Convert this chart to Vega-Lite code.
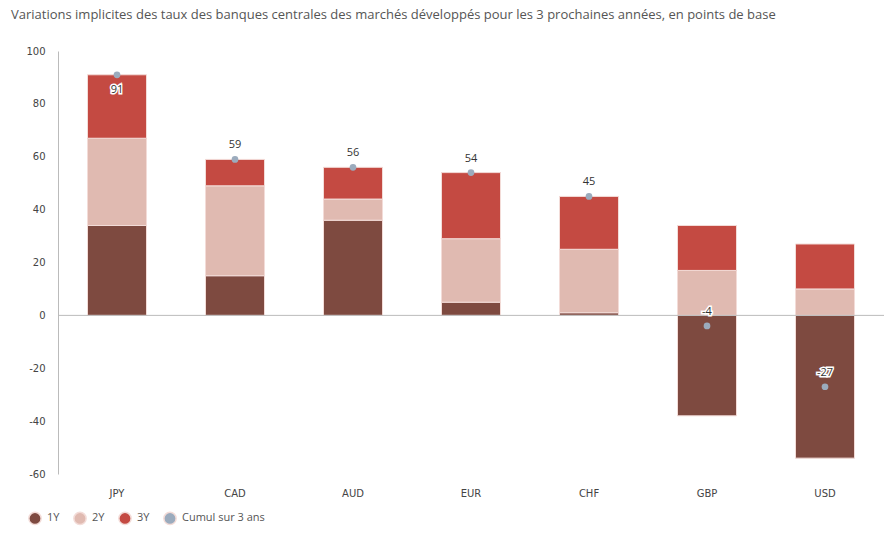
{
  "$schema": "https://vega.github.io/schema/vega-lite/v6.json",
  "autosize": {"type": "none"},
  "width": 826,
  "height": 423,
  "padding": {"left": 58, "top": 51, "right": 8, "bottom": 64},
  "background": "white",
  "config": {
    "view": {"stroke": null},
    "font": "Open Sans"
  },
  "title": {
    "text": "Variations implicites des taux des banques centrales des marchés développés pour les 3 prochaines années, en points de base",
    "anchor": "start",
    "frame": "group",
    "dx": -47,
    "offset": 24,
    "fontSize": 13,
    "fontWeight": "normal",
    "color": "#555555",
    "font": "Open Sans"
  },
  "datasets": {
    "bars": [
      {"cur": "JPY", "serie": "1Y", "value": 34},
      {"cur": "JPY", "serie": "2Y", "value": 33},
      {"cur": "JPY", "serie": "3Y", "value": 24},
      {"cur": "CAD", "serie": "1Y", "value": 15},
      {"cur": "CAD", "serie": "2Y", "value": 34},
      {"cur": "CAD", "serie": "3Y", "value": 10},
      {"cur": "AUD", "serie": "1Y", "value": 36},
      {"cur": "AUD", "serie": "2Y", "value": 8},
      {"cur": "AUD", "serie": "3Y", "value": 12},
      {"cur": "EUR", "serie": "1Y", "value": 5},
      {"cur": "EUR", "serie": "2Y", "value": 24},
      {"cur": "EUR", "serie": "3Y", "value": 25},
      {"cur": "CHF", "serie": "1Y", "value": 1},
      {"cur": "CHF", "serie": "2Y", "value": 24},
      {"cur": "CHF", "serie": "3Y", "value": 20},
      {"cur": "GBP", "serie": "1Y", "value": -38},
      {"cur": "GBP", "serie": "2Y", "value": 17},
      {"cur": "GBP", "serie": "3Y", "value": 17},
      {"cur": "USD", "serie": "1Y", "value": -54},
      {"cur": "USD", "serie": "2Y", "value": 10},
      {"cur": "USD", "serie": "3Y", "value": 17}
    ],
    "cumul": [
      {"cur": "JPY", "serie": "Cumul sur 3 ans", "total": 91, "label": "91"},
      {"cur": "CAD", "serie": "Cumul sur 3 ans", "total": 59, "label": "59"},
      {"cur": "AUD", "serie": "Cumul sur 3 ans", "total": 56, "label": "56"},
      {"cur": "EUR", "serie": "Cumul sur 3 ans", "total": 54, "label": "54"},
      {"cur": "CHF", "serie": "Cumul sur 3 ans", "total": 45, "label": "45"},
      {"cur": "GBP", "serie": "Cumul sur 3 ans", "total": -4, "label": "-4"},
      {"cur": "USD", "serie": "Cumul sur 3 ans", "total": -27, "label": "-27"}
    ]
  },
  "encoding": {
    "x": {
      "field": "cur",
      "type": "nominal",
      "sort": ["JPY", "CAD", "AUD", "EUR", "CHF", "GBP", "USD"],
      "scale": {"paddingInner": 0.5, "paddingOuter": 0.25},
      "axis": {
        "title": null,
        "domain": false,
        "ticks": false,
        "labelAngle": 0,
        "labelPadding": 14,
        "labelFontSize": 10,
        "labelColor": "#444444",
        "labelFont": "DejaVu Sans"
      }
    }
  },
  "layer": [
    {
      "data": {"name": "bars"},
      "mark": {"type": "bar", "stroke": "#f3dcd8", "strokeWidth": 1},
      "encoding": {
        "y": {
          "field": "value",
          "type": "quantitative",
          "aggregate": "sum",
          "stack": "zero",
          "scale": {"domain": [-60, 100], "nice": false, "zero": false},
          "axis": {
            "title": null,
            "grid": false,
            "ticks": false,
            "values": [-60, -40, -20, 0, 20, 40, 60, 80, 100],
            "labelOverlap": false,
            "labelExpr": "replace(datum.label, '\u2212', '-')",
            "domainColor": "#bbbbbb",
            "labelPadding": 13,
            "labelFontSize": 10,
            "labelColor": "#444444",
            "labelFont": "DejaVu Sans"
          }
        },
        "color": {
          "field": "serie",
          "type": "nominal",
          "scale": {
            "domain": ["1Y", "2Y", "3Y", "Cumul sur 3 ans"],
            "range": ["#7e4a40", "#e0bab1", "#c44a42", "#9babbd"]
          },
          "legend": {
            "title": null,
            "orient": "none",
            "direction": "horizontal",
            "legendX": -30,
            "legendY": 460,
            "symbolSize": 150,
            "labelFontSize": 11,
            "labelColor": "#555555",
            "labelFont": "Open Sans",
            "columnPadding": 10,
            "labelOffset": 5,
            "encode": {
              "symbols": {
                "update": {
                  "shape": {"signal": "datum.label == 'Cumul sur 3 ans' ? 'M-1,0H1M-0.3,0a0.3,0.3 0 1,0 0.6,0a0.3,0.3 0 1,0 -0.6,0' : 'circle'"},
                  "stroke": {"signal": "datum.label == 'Cumul sur 3 ans' ? '#9babbd' : 'transparent'"},
                  "strokeWidth": {"value": 1.5}
                }
              }
            }
          }
        },
        "order": {"field": "serie", "type": "nominal", "sort": "ascending"}
      }
    },
    {
      "data": {"values": [{"zero": 0}]},
      "mark": {"type": "rule", "color": "#bbbbbb", "strokeWidth": 1},
      "encoding": {
        "y": {"field": "zero", "type": "quantitative"},
        "x": {"value": 0},
        "x2": {"value": 826}
      }
    },
    {
      "data": {"name": "cumul"},
      "mark": {"type": "point", "filled": true, "opacity": 1, "size": 45},
      "encoding": {
        "y": {"field": "total", "type": "quantitative"},
        "color": {"field": "serie", "type": "nominal"}
      }
    },
    {
      "data": {"name": "cumul"},
      "transform": [{"filter": "datum.cur != 'JPY'"}],
      "mark": {"type": "text", "dy": -14, "fontSize": 11, "color": "#333333", "stroke": "white", "strokeWidth": 3, "font": "Open Sans"},
      "encoding": {
        "y": {"field": "total", "type": "quantitative"},
        "text": {"field": "label", "type": "nominal"}
      }
    },
    {
      "data": {"name": "cumul"},
      "transform": [{"filter": "datum.cur != 'JPY'"}],
      "mark": {"type": "text", "dy": -14, "fontSize": 11, "color": "#333333", "font": "Open Sans"},
      "encoding": {
        "y": {"field": "total", "type": "quantitative"},
        "text": {"field": "label", "type": "nominal"}
      }
    },
    {
      "data": {"name": "cumul"},
      "transform": [{"filter": "datum.cur == 'JPY'"}],
      "mark": {"type": "text", "dy": 15, "fontSize": 11, "color": "#333333", "stroke": "white", "strokeWidth": 3, "font": "Open Sans"},
      "encoding": {
        "y": {"field": "total", "type": "quantitative"},
        "text": {"field": "label", "type": "nominal"}
      }
    },
    {
      "data": {"name": "cumul"},
      "transform": [{"filter": "datum.cur == 'JPY'"}],
      "mark": {"type": "text", "dy": 15, "fontSize": 11, "color": "#333333", "font": "Open Sans"},
      "encoding": {
        "y": {"field": "total", "type": "quantitative"},
        "text": {"field": "label", "type": "nominal"}
      }
    }
  ]
}
